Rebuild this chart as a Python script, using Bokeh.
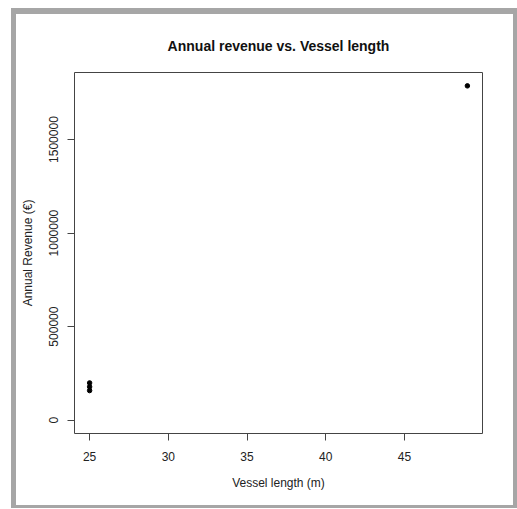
from bokeh.plotting import figure
from bokeh.models import Range1d, FixedTicker, PrintfTickFormatter
from bokeh.embed import file_html
from bokeh.resources import INLINE

# data
vessel_length = [25, 25, 25, 49]
annual_revenue = [158000, 178000, 199000, 1787000]
x_ticks = [25, 30, 35, 40, 45]
y_ticks = [0, 500000, 1000000, 1500000]

# R-like axis limits (4% padding), y includes 0
xmin, xmax = min(vessel_length), max(vessel_length)
ymin, ymax = 0, max(annual_revenue)
xpad = 0.04 * (xmax - xmin)
ypad = 0.04 * (ymax - ymin)

FONT = "Liberation Sans"

p = figure(width=506, height=500, output_backend="svg", toolbar_location=None,
           x_range=Range1d(xmin - xpad, xmax + xpad),
           y_range=Range1d(ymin - ypad, ymax + ypad),
           min_border_left=58, min_border_right=40, min_border_top=58, min_border_bottom=81,
           title="Annual revenue vs. Vessel length")
p.styles = {"border-style": "solid", "border-color": "#a6a6a6",
            "border-width": "6px 4px 3px 5px", "margin-left": "11px", "margin-top": "8px"}

p.title.align = "center"
p.title.text_font = FONT
p.title.text_font_size = "14px"
p.title.text_font_style = "bold"
p.title.text_color = "#111111"
p.title.standoff = 38

p.background_fill_color = "white"
p.border_fill_color = "white"
p.outline_line_color = "#444444"
p.outline_line_width = 1
p.xgrid.visible = False
p.ygrid.visible = False

for ax in (p.xaxis[0], p.yaxis[0]):
    ax.axis_line_color = None
    ax.major_tick_line_color = "#444444"
    ax.major_tick_out = 7
    ax.major_tick_in = 0
    ax.minor_tick_line_color = None
    ax.major_label_text_font = FONT
    ax.major_label_text_font_size = "12px"
    ax.major_label_text_color = "#222222"
    ax.axis_label_text_font = FONT
    ax.axis_label_text_font_size = "12px"
    ax.axis_label_text_font_style = "normal"
    ax.axis_label_text_color = "#222222"

p.xaxis.ticker = FixedTicker(ticks=x_ticks)
p.yaxis.ticker = FixedTicker(ticks=y_ticks)
p.yaxis.formatter = PrintfTickFormatter(format="%d")
p.xaxis.axis_label = "Vessel length (m)"
p.yaxis.axis_label = "Annual Revenue (€)"
p.xaxis.major_label_standoff = 11
p.xaxis.axis_label_standoff = 12
p.yaxis.major_label_orientation = "vertical"
p.yaxis.major_label_standoff = 9
p.yaxis.axis_label_standoff = 12

p.scatter(vessel_length, annual_revenue, size=4.5, color="black")

open("out.html", "w").write(file_html(p, INLINE))
